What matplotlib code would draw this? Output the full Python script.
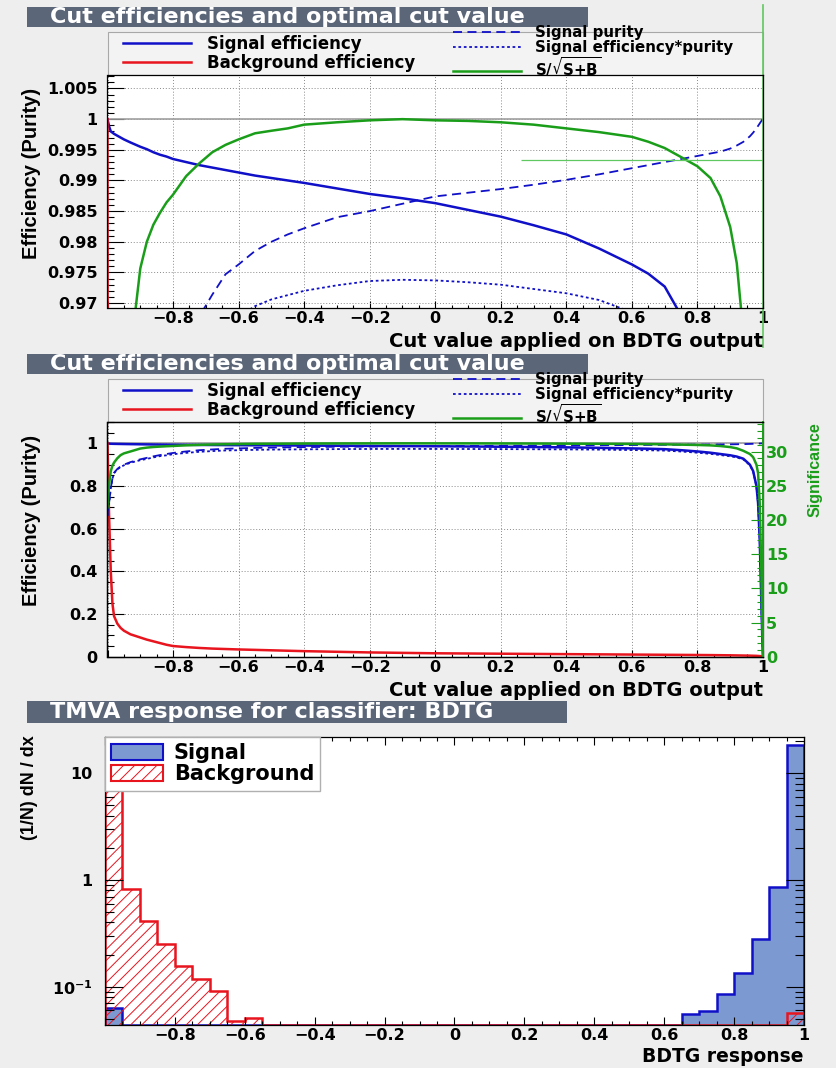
import matplotlib
matplotlib.use("Agg")
import matplotlib.pyplot as plt
from matplotlib.patches import Rectangle, Patch
from matplotlib.lines import Line2D
from matplotlib.ticker import MultipleLocator, LogLocator, NullFormatter
import numpy as np

W, H = 837, 1068

# scan of the cut on the BDTG output
cut = [-1.0, -0.998, -0.995, -0.99, -0.985, -0.98, -0.97, -0.96, -0.95, -0.93,
       -0.9, -0.88, -0.86, -0.84, -0.82, -0.8, -0.76, -0.72, -0.68, -0.64,
       -0.6, -0.55, -0.5, -0.45, -0.4, -0.3, -0.2, -0.1, 0.0, 0.1,
       0.2, 0.3, 0.4, 0.5, 0.6, 0.65, 0.7, 0.75, 0.8, 0.84,
       0.87, 0.9, 0.92, 0.94, 0.96, 0.97, 0.98, 0.985, 0.99, 0.995,
       0.998, 1.0]
eff_sig = [1.0, 0.9995, 0.9988, 0.998, 0.9978, 0.9976, 0.9973, 0.997, 0.9967, 0.9962,
           0.9955, 0.9951, 0.9946, 0.9942, 0.9939, 0.9935, 0.993, 0.9925, 0.9921, 0.9917,
           0.9913, 0.9908, 0.9904, 0.99, 0.9896, 0.9887, 0.9878, 0.9871, 0.9863, 0.9852,
           0.9841, 0.9827, 0.9812, 0.9789, 0.9763, 0.9748, 0.9727, 0.968, 0.962, 0.956,
           0.95, 0.944, 0.938, 0.928, 0.90, 0.87, 0.80, 0.72, 0.55, 0.25,
           0.08, 0.0]
eff_bkg = [1.0, 0.85, 0.65, 0.40, 0.25, 0.19, 0.155, 0.135, 0.122, 0.105,
           0.09, 0.08, 0.072, 0.064, 0.056, 0.05, 0.045, 0.041, 0.038, 0.036,
           0.034, 0.032, 0.03, 0.028, 0.026, 0.023, 0.02, 0.018, 0.016, 0.015,
           0.014, 0.013, 0.012, 0.011, 0.01, 0.0095, 0.009, 0.0085, 0.008, 0.0075,
           0.007, 0.0065, 0.006, 0.0055, 0.005, 0.0045, 0.004, 0.0035, 0.003, 0.002,
           0.001, 0.0]
purity = [0.66, 0.70, 0.72, 0.79, 0.835, 0.862, 0.88, 0.892, 0.9, 0.912,
          0.925, 0.932, 0.939, 0.945, 0.95, 0.955, 0.962, 0.9678, 0.9714, 0.9747,
          0.9763, 0.9785, 0.98, 0.9812, 0.9822, 0.984, 0.985, 0.9862, 0.9874, 0.988,
          0.9886, 0.9893, 0.9901, 0.991, 0.992, 0.9925, 0.993, 0.9935, 0.994, 0.9944,
          0.9947, 0.9952, 0.9957, 0.9963, 0.9972, 0.9978, 0.9985, 0.9989, 0.9993, 0.9997,
          0.9999, 1.0]
eff_pur = [0.66, 0.70, 0.719, 0.788, 0.833, 0.860, 0.878, 0.889, 0.897, 0.909,
           0.921, 0.927, 0.934, 0.940, 0.944, 0.949, 0.9553, 0.9603, 0.9637, 0.9666,
           0.9678, 0.9695, 0.9706, 0.9713, 0.9720, 0.9729, 0.9736, 0.9738, 0.9737, 0.9734,
           0.9730, 0.9723, 0.9716, 0.9705, 0.9685, 0.9675, 0.9659, 0.9617, 0.9562, 0.9506,
           0.9450, 0.9395, 0.9340, 0.9246, 0.8975, 0.8681, 0.7988, 0.7192, 0.5496, 0.2499,
           0.0800, 0.0]
signif = [21.84, 23.71, 25.27, 27.14, 27.92, 28.39, 29.02, 29.48, 29.73, 30.01,
          30.44, 30.576, 30.663, 30.723, 30.776, 30.816, 30.91, 30.975, 31.032, 31.069,
          31.097, 31.128, 31.141, 31.153, 31.172, 31.184, 31.194, 31.2, 31.194, 31.191,
          31.184, 31.172, 31.153, 31.134, 31.11, 31.085, 31.053, 31.007, 30.96, 30.9,
          30.807, 30.651, 30.467, 30.108, 29.64, 29.17, 28.08, 26.83, 22.46, 12.48,
          4.68, 0.0]
opt_level = 0.9933
opt_from = 0.263

# BDTG response, 40 bins on [-1, 1], normalised
bin_edges = np.linspace(-1, 1, 41)
resp_sig = [0.0636, 0, 0, 0, 0, 0, 0, 0, 0, 0,
            0, 0, 0, 0, 0, 0, 0, 0, 0, 0,
            0, 0, 0, 0, 0, 0, 0, 0, 0, 0,
            0, 0, 0, 0.0555, 0.0596, 0.0855, 0.135, 0.282, 0.865, 18.4]
resp_bkg = [18.2, 0.82, 0.416, 0.25, 0.156, 0.117, 0.0918, 0.0474, 0.0513, 0,
            0, 0, 0, 0, 0, 0, 0, 0, 0, 0,
            0, 0, 0, 0, 0, 0, 0, 0, 0, 0,
            0, 0, 0, 0, 0, 0, 0, 0, 0, 0.057]

x_ticks = [-1.0, -0.8, -0.6, -0.4, -0.2, 0.0, 0.2, 0.4, 0.6, 0.8, 1.0]
x_labels = ['', '\u22120.8', '\u22120.6', '\u22120.4', '\u22120.2', '0', '0.2', '0.4', '0.6', '0.8', '1']
zoom_ticks = [0.97, 0.975, 0.98, 0.985, 0.99, 0.995, 1.0, 1.005]
zoom_labels = ['0.97', '0.975', '0.98', '0.985', '0.99', '0.995', '1', '1.005']
full_ticks = [0.0, 0.2, 0.4, 0.6, 0.8, 1.0]
full_labels = ['0', '0.2', '0.4', '0.6', '0.8', '1']
sig_ticks = [0, 5, 10, 15, 20, 25, 30]

BLUE = '#1010c8'
RED = '#e8141e'
GREEN = '#1a9e1a'
PAD = '#eeeeee'
TITLE_BG = '#5b6679'
SIG_FILL = '#7d99d1'
TICK_SIZE = 11.5

plt.rcParams['font.family'] = ['DejaVu Sans']
plt.rcParams['font.weight'] = 'bold'
plt.rcParams['mathtext.fontset'] = 'dejavusans'
plt.rcParams['mathtext.default'] = 'bf'
plt.rcParams['hatch.linewidth'] = 0.7
plt.rcParams['axes.linewidth'] = 0.9

fig = plt.figure(figsize=(W / 100, H / 100), dpi=100, facecolor=PAD)


def px_box(x0, y0, x1, y1):
    return [x0 / W, 1 - y1 / H, (x1 - x0) / W, (y1 - y0) / H]


def title_bar(y0, y1, x1, text):
    fig.patches.append(Rectangle((27 / W, 1 - y1 / H), (x1 - 27) / W, (y1 - y0) / H,
                                 transform=fig.transFigure, facecolor=TITLE_BG,
                                 edgecolor='none', zorder=-1))
    fig.text(50 / W, 1 - (y0 + y1) / 2 / H, text, color='white', fontsize=16,
             fontweight='bold', va='center')


def ylabel(x, ytop, text, size, color='black'):
    fig.text(x / W, 1 - ytop / H, text, rotation=90, ha='center', va='top',
             fontsize=size, fontweight='bold', color=color, family='Liberation Sans')


def xlabel(x, y, text, size=14):
    fig.text(x / W, 1 - y / H, text, ha='right', va='center', fontsize=size,
             fontweight='bold')


def eff_panel(dy, ylim, yticks, ylabels, yminor, frame_bottom):
    ax = fig.add_axes(px_box(107.5, 75 + dy, 763, frame_bottom))
    ax.set_facecolor('white')
    ax.set_axisbelow(True)
    ax.set_xlim(-1, 1)
    ax.set_ylim(*ylim)
    ax.grid(True, which='major', linestyle=(0, (1, 2)), color='#8a8a8a', lw=0.7)
    ax.axhline(1.0, color='#a0a0a0', lw=1.2, zorder=1)

    scale = max(signif)
    h_s, = ax.plot(cut, eff_sig, color=BLUE, lw=1.8)
    h_b, = ax.plot(cut, eff_bkg, color=RED, lw=1.8)
    h_p, = ax.plot(cut, purity, color=BLUE, lw=1.3, linestyle=(0, (5, 3)))
    h_ep, = ax.plot(cut, eff_pur, color=BLUE, lw=1.3, linestyle=(0, (1.5, 1.5)))
    h_sg, = ax.plot(cut, np.array(signif) / scale, color=GREEN, lw=1.8)

    ax.set_xticks(x_ticks, x_labels)
    ax.xaxis.set_minor_locator(MultipleLocator(0.05))
    ax.set_yticks(yticks, ylabels)
    ax.yaxis.set_minor_locator(MultipleLocator(yminor))
    ax.tick_params(axis='x', which='major', direction='in', length=5, width=0.8,
                   pad=2.5, labelsize=TICK_SIZE)
    ax.tick_params(axis='x', which='minor', direction='in', length=2.5, width=0.8)
    ax.tick_params(axis='y', which='major', direction='in', length=12, width=0.8,
                   pad=7, labelsize=TICK_SIZE)
    ax.tick_params(axis='y', which='minor', direction='in', length=5, width=0.8)

    # legend frame split in two columns
    fig.patches.append(Rectangle((108 / W, 1 - (75 + dy) / H), 655 / W, 43 / H,
                                 transform=fig.transFigure, facecolor='#f3f3f3',
                                 edgecolor='#a8a8a8', lw=0.8, zorder=-1))
    fig.add_artist(Line2D([438 / W, 438 / W], [1 - (75 + dy) / H, 1 - (32 + dy) / H],
                          transform=fig.transFigure, color='#a8a8a8', lw=0.8, zorder=-1))
    leg1 = ax.legend([h_s, h_b], ['Signal efficiency', 'Background efficiency'],
                     loc='center left', bbox_to_anchor=(123 / W, 1 - (53.5 + dy) / H),
                     bbox_transform=fig.transFigure, frameon=False, fontsize=12,
                     handlelength=4.1, handletextpad=0.95, borderpad=0,
                     borderaxespad=0, labelspacing=0.08)
    ax.add_artist(leg1)
    ax.legend([h_p, h_ep, h_sg], ['Signal purity', 'Signal efficiency*purity',
                                  r'S/$\sqrt{S{+}B}$'],
              loc='center left', bbox_to_anchor=(453 / W, 1 - (52 + dy) / H),
              bbox_transform=fig.transFigure, frameon=False, fontsize=10.8,
              handlelength=4.5, handletextpad=0.95, borderpad=0,
              borderaxespad=0, labelspacing=0.0)
    return ax


# zoomed efficiency view
title_bar(7, 27, 588, 'Cut efficiencies and optimal cut value')
ax1 = eff_panel(0, (0.9692, 1.0072), zoom_ticks, zoom_labels, 0.001, 308)
ax1.hlines(opt_level, opt_from, 1.0, color='#60c860', lw=0.9)
ax1.axvline(1.0, ymin=(308 - 347) / 233, ymax=(308 - 5) / 233, color='#60c860',
            lw=1.2, clip_on=False)
ylabel(32, 88, 'Efficiency (Purity)', 14.5)
xlabel(763, 341.5, 'Cut value applied on BDTG output')

# full efficiency view with significance scale
dy2 = 347
title_bar(7 + dy2, 27 + dy2, 588, 'Cut efficiencies and optimal cut value')
ax2 = eff_panel(dy2, (0.0, 1.1), full_ticks, full_labels, 0.05, 656.7)
axs = ax2.twinx()
axs.set_ylim(0, 1.1 * max(signif))
axs.set_yticks(sig_ticks)
axs.yaxis.set_minor_locator(MultipleLocator(1))
axs.tick_params(axis='y', which='major', direction='in', length=9, width=0.8,
                pad=2, labelsize=TICK_SIZE, colors=GREEN)
axs.tick_params(axis='y', which='minor', direction='in', length=4.5, width=0.8,
                colors=GREEN)
axs.spines['right'].set_color(GREEN)
axs.spines['right'].set_linewidth(1.4)
ylabel(32, 88 + dy2, 'Efficiency (Purity)', 14.5)
ylabel(815, 422, 'Significance', 11.5, GREEN)
xlabel(763, 690, 'Cut value applied on BDTG output')

# classifier response
title_bar(701, 723, 567, 'TMVA response for classifier: BDTG')
ax3 = fig.add_axes(px_box(105, 737, 804, 1025))
ax3.set_facecolor('white')
ax3.set_yscale('log')
y_floor = 0.0438
ax3.set_xlim(-1, 1)
ax3.set_ylim(y_floor, 21.9)
sig_vals = np.where(np.array(resp_sig) > 0, resp_sig, y_floor)
bkg_vals = np.where(np.array(resp_bkg) > 0, resp_bkg, y_floor)
ax3.stairs(sig_vals, bin_edges, baseline=y_floor, fill=True, facecolor=SIG_FILL,
           edgecolor='none')
ax3.stairs(sig_vals, bin_edges, baseline=y_floor, color=BLUE, lw=1.8)
ax3.stairs(bkg_vals, bin_edges, baseline=y_floor, fill=True, facecolor='none',
           edgecolor=RED, hatch='///', lw=0)
ax3.stairs(bkg_vals, bin_edges, baseline=y_floor, color=RED, lw=1.8)

ax3.set_xticks(x_ticks, x_labels)
ax3.xaxis.set_minor_locator(MultipleLocator(0.05))
ax3.set_yticks([0.1, 1, 10], [r'$10^{-1}$', '1', '10'])
ax3.yaxis.set_minor_locator(LogLocator(base=10, subs=np.arange(2, 10)))
ax3.yaxis.set_minor_formatter(NullFormatter())
ax3.tick_params(which='both', direction='in', top=True, right=True, width=0.8)
ax3.tick_params(axis='x', which='major', length=6, pad=2.5, labelsize=TICK_SIZE)
ax3.tick_params(axis='x', which='minor', length=3)
ax3.tick_params(axis='y', which='major', length=13, pad=9, labelsize=TICK_SIZE)
ax3.tick_params(axis='y', which='minor', length=6.5)

ax3.legend([Patch(facecolor=SIG_FILL, edgecolor=BLUE, lw=1.5),
            Patch(facecolor='white', edgecolor=RED, hatch='///', lw=1.5)],
           ['Signal', 'Background'], loc='upper left', bbox_to_anchor=(0, 1),
           borderaxespad=0, fontsize=15, frameon=True, fancybox=False,
           edgecolor='#b0b0b0', framealpha=1, handlelength=2.5, handleheight=0.75,
           handletextpad=0.5, labelspacing=0.05, borderpad=0.3)
ylabel(30, 735, '(1/N) dN / dx', 13)
xlabel(804, 1056.5, 'BDTG response', 13.5)

fig.savefig('out.png', dpi=100, facecolor=PAD)
